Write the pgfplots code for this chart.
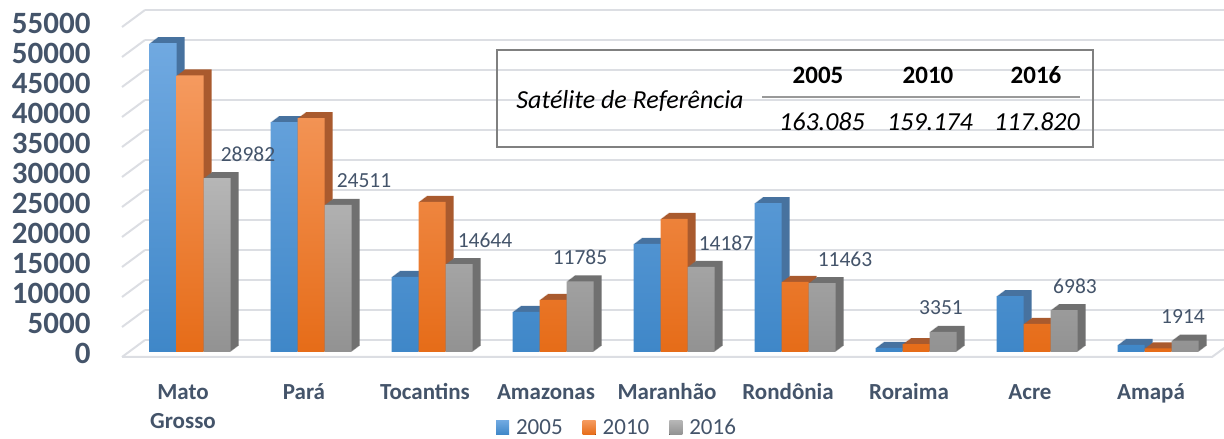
\documentclass[border=0pt]{standalone}
\usepackage{pgfplots}
\usepackage{pgfplotstable}
\pgfplotsset{compat=1.18}
\usepackage{fontspec}
\setmainfont{Carlito}
\definecolor{txt}{HTML}{44546A}
\definecolor{gridc}{HTML}{DCDEE3}
\definecolor{bluetop}{HTML}{70A9E1}
\definecolor{bluebot}{HTML}{3F87C8}
\definecolor{blueside}{HTML}{47729F}
\definecolor{orangetop}{HTML}{F59A5F}
\definecolor{orangebot}{HTML}{E66C18}
\definecolor{orangeside}{HTML}{A95A2E}
\definecolor{graytop}{HTML}{B6B6B6}
\definecolor{graybot}{HTML}{929292}
\definecolor{grayside}{HTML}{707070}

\pgfplotstableread{
x   a     b     c     dx  lab
0   51500 46100 28982 31  28982
1   38300 39000 24511 26  24511
2   12500 25000 14644 26  14644
3   6700  8700  11785 0   11785
4   18000 22200 14187 25  14187
5   24800 11700 11463 23  11463
6   700   1300  3351  -2  3351
7   9300  4700  6983  11  6983
8   1200  600   1914  -2  1914
}\data

\begin{document}
\begin{tikzpicture}[x=1pt,y=1pt]
% back wall grid
\begin{axis}[at={(145pt,99pt)}, anchor=south west, scale only axis,
  width=1090pt, height=330pt, xmin=0, xmax=1, ymin=0, ymax=55000,
  ytick={0,5000,...,55000}, yticklabels=\empty, xtick=\empty, scaled y ticks=false,
  ymajorgrids, grid style={line width=2pt, gridc},
  axis line style={draw=none}, tick style={draw=none}]
\end{axis}
\foreach \k in {0,...,11}{\draw[gridc, line width=2pt] (122,82+30*\k) -- (145,99+30*\k);}
\draw[gridc, line width=2pt] (122,82) -- (1212,82) -- (1235,99);

\begin{axis}[at={(122pt,87pt)}, anchor=south west, scale only axis,
  width=1090pt, height=330pt,
  xmin=-0.562, xmax=8.4463, ymin=0, ymax=55000, clip=false,
  axis line style={draw=none}, tick style={draw=none},
  ytick={0,5000,...,55000}, scaled y ticks=false,
  /pgf/number format/.cd, 1000 sep={}, assume math mode=true, /pgfplots/.cd,
  yticklabel style={font=\fontsize{31}{31}\selectfont\bfseries, text=txt, xshift=-28pt, yshift=-5pt},
  xtick={0,...,8},
  xticklabels={Mato\\Grosso, Pará, Tocantins, Amazonas, Maranhão, Rondônia, Roraima, Acre, Amapá},
  typeset ticklabels with strut,
  xticklabel style={font=\fontsize{23}{29}\selectfont\bfseries, text=txt, align=center, xshift=-7pt, yshift=-19pt},
  ybar, bar width=27pt,
  legend style={at={(0.4532,-0.2288)}, anchor=center, draw=none, fill=none,
    font=\fontsize{23}{26}\selectfont, text=txt, legend columns=-1,
    nodes={inner xsep=0pt, inner ysep=0pt},
    /tikz/every odd column/.append style={column sep=7pt},
    /tikz/every even column/.append style={column sep=20pt}},
  legend image code/.code={\fill[#1] (0pt,-7pt) rectangle (13pt,7pt);},
]
\pgfplotsinvokeforeach{1,...,8}{
  \addplot[forget plot, draw=none, fill=blueside, bar shift=-27pt, xshift=#1pt, yshift=0.75*#1pt] table[x=x,y=a]{\data};
}
\addplot[draw=none, top color=bluetop, bottom color=bluebot, bar shift=-27pt] table[x=x,y=a]{\data};
\addlegendentry{2005}
\pgfplotsinvokeforeach{1,...,8}{
  \addplot[forget plot, draw=none, fill=orangeside, bar shift=0pt, xshift=#1pt, yshift=0.75*#1pt] table[x=x,y=b]{\data};
}
\addplot[draw=none, top color=orangetop, bottom color=orangebot, bar shift=0pt] table[x=x,y=b]{\data};
\addlegendentry{2010}
\pgfplotsinvokeforeach{1,...,8}{
  \addplot[forget plot, draw=none, fill=grayside, bar shift=27pt, xshift=#1pt, yshift=0.75*#1pt] table[x=x,y=c]{\data};
}
\addplot[draw=none, top color=graytop, bottom color=graybot, bar shift=27pt,
  point meta=explicit symbolic, nodes near coords,
  visualization depends on={\thisrow{dx} \as \dx},
  every node near coord/.append style={anchor=center, xshift=\dx pt, yshift=24pt,
    font=\fontsize{21.5}{21.5}\selectfont, text=txt}]
  table[x=x,y=c,meta=lab]{\data};
\addlegendentry{2016}
\end{axis}

% inset table
\draw[color=gray, line width=1.2pt] (497,292) rectangle (1093,389);
\draw[color=black!40, line width=1.8pt] (762,342) -- (1080,342);
\node[font=\fontsize{26}{26}\selectfont\itshape] at (630,338) {Satélite de Referência};
\node[font=\fontsize{25}{25}\selectfont\bfseries] at (818,364) {2005};
\node[font=\fontsize{25}{25}\selectfont\bfseries] at (928,364) {2010};
\node[font=\fontsize{25}{25}\selectfont\bfseries] at (1036,364) {2016};
\node[font=\fontsize{26}{26}\selectfont\itshape] at (822,317) {163.085};
\node[font=\fontsize{26}{26}\selectfont\itshape] at (930,317) {159.174};
\node[font=\fontsize{26}{26}\selectfont\itshape] at (1037,317) {117.820};
\pgfresetboundingbox
\path[use as bounding box] (0,0) rectangle (1224,439);
\end{tikzpicture}
\end{document}
